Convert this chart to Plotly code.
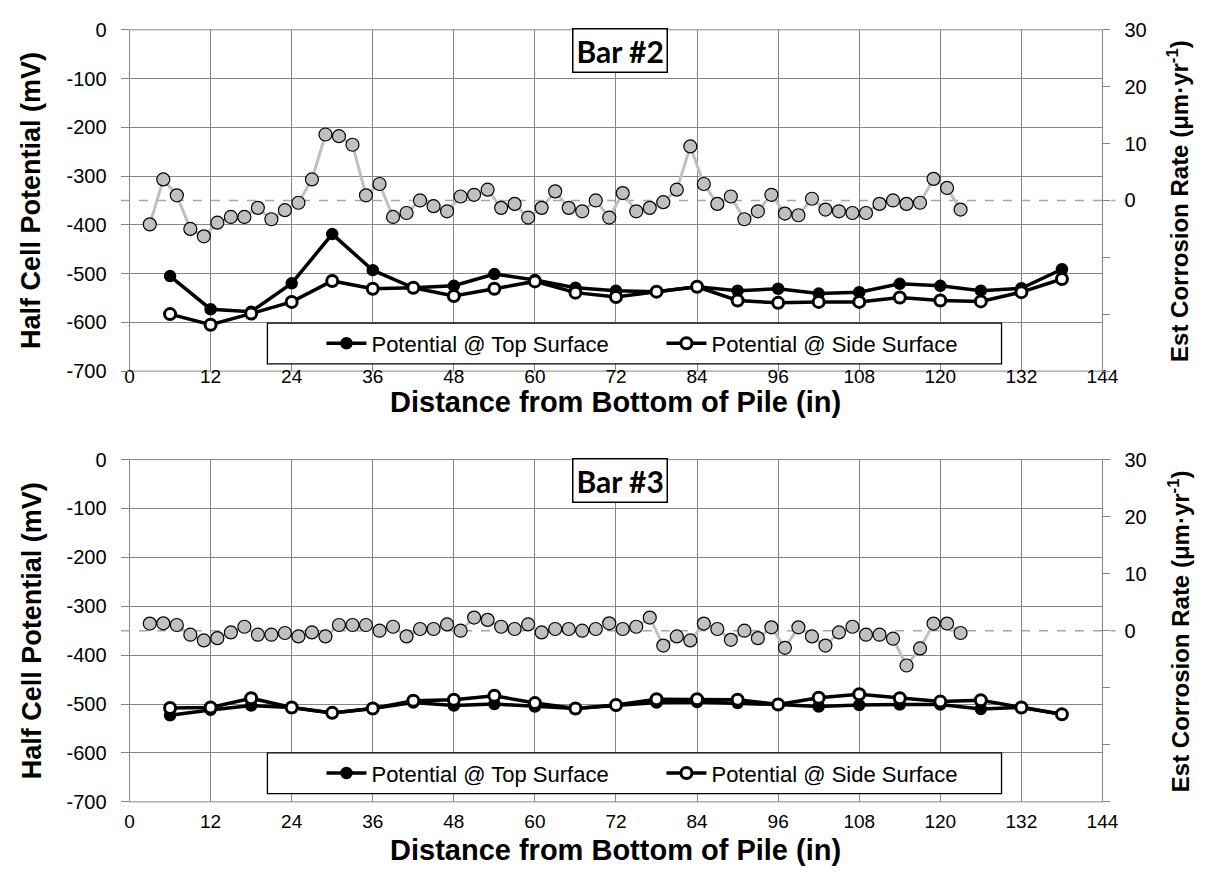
import plotly.graph_objects as go

# ---------------- data ----------------
dist_rate = [3, 5, 7, 9, 11, 13, 15, 17, 19, 21, 23, 25, 27, 29, 31, 33, 35, 37, 39, 41,
             43, 45, 47, 49, 51, 53, 55, 57, 59, 61, 63, 65, 67, 69, 71, 73, 75, 77, 79, 81,
             83, 85, 87, 89, 91, 93, 95, 97, 99, 101, 103, 105, 107, 109, 111, 113, 115, 117,
             119, 121, 123]
dist_pot = [6, 12, 18, 24, 30, 36, 42, 48, 54, 60, 66, 72, 78, 84, 90, 96, 102, 108, 114,
            120, 126, 132, 138]

bar2_rate = [-4.2, 3.7, 0.9, -5.0, -6.3, -3.9, -2.9, -2.9, -1.3, -3.3,
             -1.7, -0.4, 3.7, 11.6, 11.3, 9.8, 0.9, 2.9, -2.9, -2.2,
             0.0, -1.0, -1.9, 0.7, 1.0, 1.9, -1.3, -0.6, -3.0, -1.3,
             1.6, -1.3, -1.9, 0.0, -3.0, 1.3, -1.9, -1.3, -0.3, 1.9,
             9.5, 2.9, -0.6, 0.7, -3.3, -1.9, 1.0, -2.3, -2.6, 0.3,
             -1.6, -1.9, -2.2, -2.2, -0.6, 0.0, -0.6, -0.4, 3.8, 2.2, -1.6]
bar2_top = [-505, -573, -578, -520, -419, -493, -529, -525, -501, -513, -529, -535,
            -537, -527, -535, -531, -541, -538, -521, -525, -535, -530, -491]
bar2_side = [-583, -605, -582, -558, -515, -531, -529, -546, -531, -516, -539, -548,
             -537, -527, -555, -560, -558, -558, -549, -555, -557, -538, -511]

bar3_rate = [1.25, 1.3, 1.0, -0.7, -1.7, -1.3, -0.3, 0.7, -0.7, -0.7,
             -0.4, -1.0, -0.3, -1.0, 1.0, 1.0, 1.0, 0.0, 0.7, -1.0,
             0.3, 0.3, 1.1, 0.0, 2.3, 1.9, 0.7, 0.3, 1.1, -0.3,
             0.3, 0.3, 0.0, 0.3, 1.3, 0.3, 0.7, 2.3, -2.6, -1.0,
             -1.7, 1.25, 0.3, -1.6, 0.0, -1.3, 0.6, -3.0, 0.6, -1.0,
             -2.6, -0.3, 0.7, -0.7, -0.7, -1.4, -6.1, -3.1, 1.25, 1.25, -0.4]
bar3_top = [-523, -512, -503, -507, -518, -509, -497, -503, -500, -505, -509, -503,
            -497, -496, -498, -501, -505, -502, -501, -501, -510, -507, -521]
bar3_side = [-508, -507, -488, -507, -518, -509, -493, -491, -483, -498, -509, -502,
             -490, -490, -491, -501, -487, -480, -488, -495, -492, -507, -521]

x_ticks = [0, 12, 24, 36, 48, 60, 72, 84, 96, 108, 120, 132, 144]
pot_ticks = [-700, -600, -500, -400, -300, -200, -100, 0]
pot_ticktext = ["-700", "-600", "-500", "-400", "-300", "-200", "-100", "0"]
rate_ticks = [-30, -20, -10, 0, 10, 20, 30]
rate_ticktext = ["", "", "", "0", "10", "20", "30"]

# ---------------- layout helpers ----------------
W, H = 1219, 886
FONT = "Arial, 'Liberation Sans', sans-serif"
GRID = "#868686"
xdom = [126.7 / W, 1116.7 / W]
ydom = {1: [1 - 369.3 / H, 1 - 19.3 / H], 2: [1 - 811 / H, 1 - 460 / H]}
top_px = {1: 19.3, 2: 460}
xlabel_shift = {1: 8, 2: -6}       # px shift of the tick-label row (up = +)
xtitle_px = {1: 401, 2: 860}

fig = go.Figure()

panels = [
    (1, "Bar #2", bar2_rate, bar2_top, bar2_side),
    (2, "Bar #3", bar3_rate, bar3_top, bar3_side),
]

shapes = []
annotations = []

for i, label, rate, top, side in panels:
    xa = "x" if i == 1 else "x2"
    ya_left = "y" if i == 1 else "y3"
    ya_right = "y2" if i == 1 else "y4"
    leg = "legend" if i == 1 else "legend2"

    fig.add_trace(go.Scatter(
        x=dist_rate, y=rate, xaxis=xa, yaxis=ya_right, mode="lines+markers",
        line=dict(color="#c0c0c0", width=3),
        marker=dict(symbol="circle", size=13, color="#c0c0c0",
                    line=dict(color="#000000", width=1.2)),
        showlegend=False, name="Est Corrosion Rate"))
    fig.add_trace(go.Scatter(
        x=dist_pot, y=top, xaxis=xa, yaxis=ya_left, mode="lines+markers",
        line=dict(color="#000000", width=3.5),
        marker=dict(symbol="circle", size=11, color="#000000",
                    line=dict(color="#000000", width=1.5)),
        name="Potential @ Top Surface", legend=leg))
    fig.add_trace(go.Scatter(
        x=dist_pot, y=side, xaxis=xa, yaxis=ya_left, mode="lines+markers",
        line=dict(color="#000000", width=3.5),
        marker=dict(symbol="circle", size=11, color="#ffffff",
                    line=dict(color="#000000", width=3)),
        name="Potential @ Side Surface", legend=leg))

    d0, d1 = ydom[i]
    t = top_px[i]
    # plot-area frame
    shapes.append(dict(type="rect", xref="paper", yref="paper",
                       x0=xdom[0], x1=xdom[1], y0=d0, y1=d1, layer="below",
                       line=dict(color=GRID, width=1)))
    # dashed zero-rate reference line (right axis 0 of range -30..30)
    yz = d0 + (0 - (-30)) / 60 * (d1 - d0)
    shapes.append(dict(type="line", xref="paper", yref="paper", x0=118 / W, x1=1130 / W,
                       y0=yz, y1=yz, layer="below",
                       line=dict(color="#a6a6a6", width=1.5, dash="dash")))
    # legend box
    shapes.append(dict(type="rect", xref="paper", yref="paper",
                       x0=267 / W, x1=1014 / W,
                       y0=1 - (t + 342.5) / H, y1=1 - (t + 300.7) / H,
                       fillcolor="#ffffff", line=dict(color="#000000", width=1.3),
                       layer="above"))
    # panel label
    annotations.append(dict(
        xref="paper", yref="paper", x=626 / W, y=1 - (t + 21) / H,
        xanchor="center", yanchor="middle", showarrow=False,
        text="<b>" + label + "</b>",
        font=dict(family="Lato, 'Open Sans', sans-serif", size=30, color="#000000"),
        bgcolor="#ffffff", bordercolor="#000000", borderwidth=1.5, borderpad=3))
    # axis titles
    annotations.append(dict(
        xref="paper", yref="paper", x=27 / W, y=(d0 + d1) / 2,
        xanchor="center", yanchor="middle", showarrow=False, textangle=-90,
        text="<b>Half Cell Potential (mV)</b>",
        font=dict(family=FONT, size=27, color="#000000")))
    annotations.append(dict(
        xref="paper", yref="paper", x=1194 / W, y=(d0 + d1) / 2,
        xanchor="center", yanchor="middle", showarrow=False, textangle=-90,
        text="<b>Est Corrosion Rate (μm·yr<sup>-1</sup>)</b>",
        font=dict(family=FONT, size=24, color="#000000")))
    annotations.append(dict(
        xref="paper", yref="paper", x=(xdom[0] + xdom[1]) / 2, y=1 - xtitle_px[i] / H,
        xanchor="center", yanchor="middle", showarrow=False,
        text="<b>Distance from Bottom of Pile (in)</b>",
        font=dict(family=FONT, size=29, color="#000000")))

common_x = dict(range=[0, 144], tickvals=x_ticks, showgrid=True, gridcolor=GRID,
                gridwidth=1, showline=False, ticks="", zeroline=False, domain=xdom,
                anchor="free",
                tickfont=dict(family=FONT, size=19, color="#000000"))
common_yl = dict(range=[-700, 0], tickvals=pot_ticks, ticktext=pot_ticktext,
                 showgrid=True, gridcolor=GRID,
                 gridwidth=1, showline=True, linecolor=GRID, linewidth=1, mirror=True,
                 ticks="outside", ticklen=8, tickcolor=GRID, zeroline=False,
                 ticklabelstandoff=10,
                 tickfont=dict(family=FONT, size=20, color="#000000"))
common_yr = dict(range=[-30, 30], tickvals=rate_ticks, ticktext=rate_ticktext,
                 side="right", showgrid=False, showline=True, linecolor=GRID,
                 ticks="outside", ticklen=7, tickcolor=GRID, zeroline=False,
                 ticklabelstandoff=10,
                 tickfont=dict(family=FONT, size=20, color="#000000"))

legend_common = dict(orientation="h", xanchor="left", yanchor="middle",
                     bgcolor="rgba(0,0,0,0)", borderwidth=0, itemwidth=40,
                     entrywidth=285, entrywidthmode="pixels",
                     font=dict(family=FONT, size=22, color="#000000"))

fig.update_layout(
    width=W, height=H, autosize=False,
    margin=dict(l=0, r=0, t=0, b=0),
    paper_bgcolor="#ffffff", plot_bgcolor="rgba(0,0,0,0)",
    xaxis=dict(common_x, position=ydom[1][0] + xlabel_shift[1] / H),
    yaxis=dict(common_yl, domain=ydom[1], anchor="x"),
    yaxis2=dict(common_yr, domain=ydom[1], anchor="x", overlaying="y"),
    xaxis2=dict(common_x, position=ydom[2][0] + xlabel_shift[2] / H),
    yaxis3=dict(common_yl, domain=ydom[2], anchor="x2"),
    yaxis4=dict(common_yr, domain=ydom[2], anchor="x2", overlaying="y3"),
    legend=dict(legend_common, x=322 / W, y=1 - (19.3 + 321.6) / H),
    legend2=dict(legend_common, x=322 / W, y=1 - (460 + 321.6) / H),
    shapes=shapes,
    annotations=annotations,
    showlegend=True,
)

fig.write_html("out.html")
